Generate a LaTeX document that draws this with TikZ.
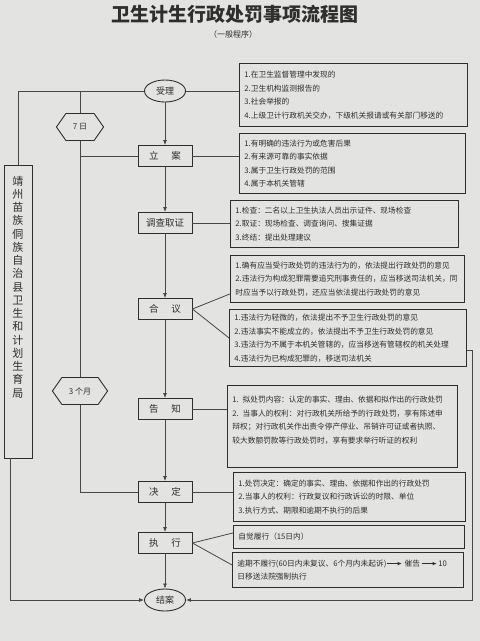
\documentclass[tikz,border=0pt]{standalone}
\usepackage{fontspec}
\setmainfont{Noto Sans CJK SC}
\usetikzlibrary{arrows.meta, positioning, shapes.geometric, shapes.symbols}
\definecolor{PaperGray}{HTML}{E3E3E1}
\definecolor{InkDark}{HTML}{2E2E2E}
\definecolor{InkLine}{HTML}{474747}

% small inline arrow used inside the text of a box
\newcommand{\flowarr}{\tikz[baseline=-0.6ex]\draw[InkDark, line width=0.7pt, -{Latex[length=4pt, width=3.5pt]}] (0pt,0pt) -- (15pt,0pt);}

\begin{document}
\begin{tikzpicture}[
    x=1pt, y=-1pt,
    font=\fontsize{7.7}{13.5}\selectfont,
    >={Latex[length=5pt, width=4pt]},
    % Flow Element Styles
    stepbox/.style={rectangle, draw=InkDark, line width=0.9pt, minimum width=54pt, minimum height=21pt, inner sep=0pt, text=InkDark, font=\fontsize{9.5}{11}\selectfont},
    endcap/.style={ellipse, draw=InkDark, line width=0.9pt, minimum width=41pt, minimum height=22pt, inner sep=0pt, text=InkDark, font=\fontsize{9}{11}\selectfont},
    timer/.style={signal, signal to=west and east, signal pointer angle=110, draw=InkDark, line width=0.9pt, minimum height=27pt, inner xsep=7pt, inner ysep=0pt, text=InkDark, font=\fontsize{8}{10}\selectfont},
    % Note Box Styles
    infobox/.style 2 args={rectangle, draw=InkDark, line width=0.9pt, anchor=north west, align=left, text width=#1, minimum height=#2, inner xsep=5pt, inner ysep=0pt, text=InkDark},
    orgbox/.style={rectangle, draw=InkDark, line width=0.9pt, minimum width=28pt, minimum height=293pt, inner sep=0pt},
    % Connector Styles
    link/.style={draw=InkLine, line width=0.8pt},
    flow/.style={link, ->}
]

    % ==========================================
    % PAPER & TITLE
    % ==========================================
    \fill[PaperGray] (0,0) rectangle (480,641);
    \useasboundingbox (0,0) rectangle (480,641);

    \node[font=\fontsize{19}{22}\selectfont\bfseries, text=InkDark] (title) at (235,14) {卫生计生行政处罚事项流程图};
    \node[font=\fontsize{8}{10}\selectfont, text=InkDark] (subtitle) at (233,34) {（一般程序）};

    % ==========================================
    % MAIN FLOW
    % ==========================================
    \node[endcap] (accept) at (165,91) {受理};
    \node[stepbox] (case) at (165,156) {立\hspace{13pt}案};
    \node[stepbox] (invest) at (165,223) {调查取证};
    \node[stepbox] (discuss) at (165,309) {合\hspace{13pt}议};
    \node[stepbox] (notify) at (165,409) {告\hspace{13pt}知};
    \node[stepbox] (decide) at (165,492) {决\hspace{13pt}定};
    \node[stepbox] (exec) at (165,543) {执\hspace{13pt}行};
    \node[endcap] (close) at (165,600) {结案};

    \draw[flow] (accept) -- (case);
    \draw[flow] (case) -- (invest);
    \draw[flow] (invest) -- (discuss);
    \draw[flow] (discuss) -- (notify);
    \draw[flow] (notify) -- (decide);
    \draw[flow] (decide) -- (exec);
    \draw[flow] (exec) -- (close);

    % ==========================================
    % TIME LIMITS & AUTHORITY
    % ==========================================
    \node[timer] (day7) at (80,127) {7 日};
    \node[timer] (month3) at (80,391) {3 个月};

    \node[orgbox] (org) at (18,311.5) {};
    \node[font=\fontsize{11}{13.25}\selectfont, align=center, text=InkDark] (orgtxt) at (18,287)
        {靖\\州\\苗\\族\\侗\\族\\自\\治\\县\\卫\\生\\和\\计\\划\\生\\育\\局};

    \draw[link] (accept.west) -| (org.north);
    \draw[link] (day7.north) -- (day7.north |- accept.west);
    \draw[link] (day7.south) -- (month3.north);
    \draw[link] (day7.south |- case.west) -- (case.west);
    \draw[link] (month3.south) |- (decide.west);
    \draw[flow] ([xshift=-8pt]org.south) |- (close.west);

    % ==========================================
    % NOTES
    % ==========================================
    \node[infobox={218pt}{63pt}] (b1) at (239,63)
        {1.在卫生监督管理中发现的\\2.卫生机构监测报告的\\3.社会举报的\\4.上级卫计行政机关交办，下级机关报请或有关部门移送的};
    \node[infobox={216pt}{60pt}] (b2) at (239,133)
        {1.有明确的违法行为或危害后果\\2.有来源可靠的事实依据\\3.属于卫生行政处罚的范围\\4.属于本机关管辖};
    \node[infobox={218pt}{47pt}] (b3) at (230,200)
        {1.检查：二名以上卫生执法人员出示证件、现场检查\\2.取证：现场检查、调查询问、搜集证据\\3.终结：提出处理建议};
    \node[infobox={224pt}{47pt}] (b4) at (230,255)
        {1.确有应当受行政处罚的违法行为的，依法提出行政处罚的意见\\2.违法行为构成犯罪需要追究刑事责任的，应当移送司法机关，同\\时应当予以行政处罚，还应当依法提出行政处罚的意见};
    \node[infobox={227pt}{57pt}] (b5) at (229,309)
        {1.违法行为轻微的，依法提出不予卫生行政处罚的意见\\2.违法事实不能成立的，依法提出不予卫生行政处罚的意见\\3.违法行为不属于本机关管辖的，应当移送有管辖权的机关处理\\4.违法行为已构成犯罪的，移送司法机关};
    \node[infobox={220pt}{82pt}] (b6) at (227,385)
        {1. 拟处罚内容：认定的事实、理由、依据和拟作出的行政处罚\\2. 当事人的权利：对行政机关所给予的行政处罚，享有陈述申\\辩权；对行政机关作出责令停产停业、吊销许可证或者执照、\\较大数额罚款等行政处罚时，享有要求举行听证的权利\\\mbox{}};
    \node[infobox={222pt}{49pt}] (b7) at (233,472)
        {1.处罚决定：确定的事实、理由、依据和作出的行政处罚\\2.当事人的权利：行政复议和行政诉讼的时限、单位\\3.执行方式、期限和逾期不执行的后果};
    \node[infobox={221pt}{23pt}] (b8) at (233,525) {自觉履行（15日内）};
    \node[infobox={221pt}{35pt}] (b9) at (232,552)
        {逾期不履行(60日内未复议、6个月内未起诉)\flowarr\ 催告\,\flowarr\,10\\日移送法院强制执行};

    \draw[link] (accept.east) -- (accept.east -| b1.west);
    \draw[link] (case.east) -- (case.east -| b2.west);
    \draw[link] (invest.east) -- (invest.east -| b3.west);
    \draw[link] (discuss.east) -- ([yshift=9pt]b4.south west);
    \draw[link] (discuss.east) -- (b5.west);
    \draw[link] (notify.east) -- (notify.east -| b6.west);
    \draw[link] (decide.east) -- (decide.east -| b7.west);
    \draw[link] (exec.east) -- ([yshift=4pt]b8.west);
    \draw[link] (exec.east) -- ([yshift=5pt]b9.west);

    % not handled here: back to the case closing
    \draw[flow] ([yshift=-12pt]b5.east) -- ++(5,0) |- (close.east);

\end{tikzpicture}
\end{document}
